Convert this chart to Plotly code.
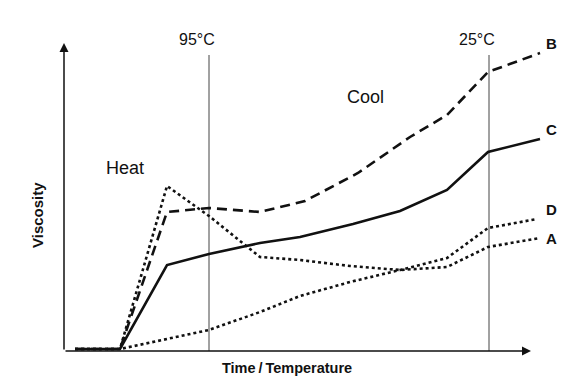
import plotly.graph_objects as go

# Series data (time units along x, viscosity units along y)
a_x = [11, 56, 103, 145, 196, 236, 286, 336, 383, 424, 476]
a_y = [2, 2, 165, 135, 94, 91, 85, 81, 84, 104, 113]

b_x = [11, 56, 103, 145, 196, 241, 294, 346, 383, 424, 476]
b_y = [2, 2, 139, 143, 139, 150, 178, 214, 236, 279, 298]

c_x = [11, 56, 103, 145, 196, 236, 289, 336, 383, 424, 476]
c_y = [2, 2, 86, 97, 108, 114, 127, 140, 161, 199, 212]

d_x = [11, 56, 145, 196, 236, 286, 336, 383, 424, 473]
d_y = [2, 2, 21, 39, 55, 69, 81, 93, 123, 132]

temp_marks_x = [145, 425]
temp_labels = ["95°C", "25°C"]

FONT = "Liberation Sans, Arial, sans-serif"
INK = "#111111"

X_SPAN = 530
Y_SPAN = 343

fig = go.Figure()
fig.add_trace(go.Scatter(x=d_x, y=d_y, mode="lines",
                         line=dict(color=INK, width=2.6, dash="3px,3px")))
fig.add_trace(go.Scatter(x=a_x, y=a_y, mode="lines",
                         line=dict(color=INK, width=2.6, dash="3px,3px")))
fig.add_trace(go.Scatter(x=b_x, y=b_y, mode="lines",
                         line=dict(color=INK, width=2.6, dash="10px,6px")))
fig.add_trace(go.Scatter(x=c_x, y=c_y, mode="lines",
                         line=dict(color=INK, width=2.6)))

# temperature marker lines
for xv in temp_marks_x:
    fig.add_shape(type="line", x0=xv, x1=xv, y0=0, y1=296, xref="x", yref="y",
                  line=dict(color="#444444", width=1), layer="below")

annotations = []
# axes with arrowheads
annotations.append(dict(x=0, y=308, ax=0, ay=0, xref="x", yref="y", axref="x", ayref="y",
                        text="", showarrow=True, arrowhead=2, arrowsize=1.2,
                        arrowwidth=1.5, arrowcolor=INK, standoff=0, startstandoff=0))
annotations.append(dict(x=467, y=0, ax=0, ay=0, xref="x", yref="y", axref="x", ayref="y",
                        text="", showarrow=True, arrowhead=2, arrowsize=1.2,
                        arrowwidth=1.5, arrowcolor=INK, standoff=0, startstandoff=0))

for xv, lab in zip(temp_marks_x, temp_labels):
    annotations.append(dict(x=xv - 12, y=312, xref="x", yref="y", text=lab, showarrow=False,
                            xanchor="center", yanchor="middle",
                            font=dict(family=FONT, size=16, color=INK)))

annotations.append(dict(x=61, y=183, xref="x", yref="y", text="Heat", showarrow=False,
                        xanchor="center", yanchor="middle",
                        font=dict(family=FONT, size=18, color=INK)))
annotations.append(dict(x=301, y=254, xref="x", yref="y", text="Cool", showarrow=False,
                        xanchor="center", yanchor="middle",
                        font=dict(family=FONT, size=18, color=INK)))

for lab, yv in [("B", 308), ("C", 222), ("D", 142), ("A", 113)]:
    annotations.append(dict(x=487, y=yv, xref="x", yref="y", text="<b>%s</b>" % lab,
                            xanchor="center", yanchor="middle",
                            showarrow=False, font=dict(family=FONT, size=15, color=INK)))

annotations.append(dict(x=-26 / X_SPAN, y=136 / Y_SPAN, xref="paper", yref="paper",
                        xanchor="center", yanchor="middle",
                        text="<b>Viscosity</b>", textangle=-90, showarrow=False,
                        font=dict(family=FONT, size=15, color=INK)))
annotations.append(dict(x=223 / X_SPAN, y=-17 / Y_SPAN, xref="paper", yref="paper",
                        xanchor="center", yanchor="middle",
                        text="<b>Time\u2009/\u2009Temperature</b>", showarrow=False,
                        font=dict(family=FONT, size=14.5, color=INK)))

fig.update_layout(
    width=586, height=390,
    margin=dict(l=56, r=0, t=0, b=47),
    paper_bgcolor="white", plot_bgcolor="white",
    showlegend=False,
    xaxis=dict(range=[0, X_SPAN], visible=False, fixedrange=True),
    yaxis=dict(range=[0, Y_SPAN], visible=False, fixedrange=True),
    annotations=annotations,
)

fig.write_html("out.html")
